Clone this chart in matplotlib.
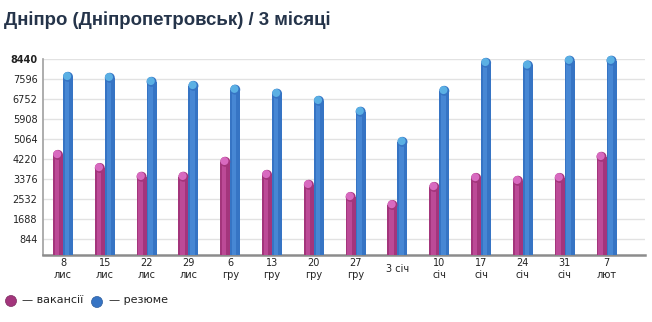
import matplotlib
matplotlib.use("Agg")
import matplotlib.pyplot as plt
from matplotlib.patches import Ellipse, Circle
import numpy as np

title = "Дніпро (Дніпропетровськ) / 3 місяці"
days = ["8", "15", "22", "29", "6", "13", "20", "27", "3 січ", "10", "17", "24", "31", "7"]
months = ["лис", "лис", "лис", "лис", "гру", "гру", "гру", "гру", "", "січ", "січ", "січ", "січ", "лют"]
vacancies = [4610, 4060, 3690, 3690, 4320, 3770, 3350, 2840, 2500, 3260, 3640, 3520, 3640, 4530]
resumes = [7900, 7860, 7690, 7520, 7360, 7190, 6890, 6430, 5160, 7310, 8490, 8380, 8580, 8580]
yticks = [844, 1688, 2532, 3376, 4220, 5064, 5908, 6752, 7596, 8440]
series_names = ["вакансії", "резюме"]

pink = "#a3357c"
pink_light = "#c754a3"
pink_cap = "#d86ac0"
blue = "#3674c4"
blue_light = "#4f90dc"
blue_cap = "#5bb0e4"

W, H = 652, 322
fig = plt.figure(figsize=(W / 100, H / 100), dpi=100)
ax = fig.add_axes([43 / W, 1 - 255 / H, (645 - 43) / W, (255 - 59) / H])
ax.set_xlim(-0.478, 13.92)
ax.set_ylim(181, 8440)

for s in ["top", "right"]:
    ax.spines[s].set_visible(False)
ax.spines["left"].set_color("#a0a0a0")
ax.spines["left"].set_linewidth(1.2)
ax.spines["bottom"].set_color("#8c8c8c")
ax.spines["bottom"].set_linewidth(1.8)

ax.set_yticks(yticks)
ax.set_yticklabels([str(v) for v in yticks], fontsize=7, color="#222222", family="DejaVu Sans")
ax.get_yticklabels()[-1].set_fontweight("bold")
ax.tick_params(axis="y", length=0, pad=4)
ax.grid(axis="y", color="#e2e2e2", linewidth=1)
ax.set_axisbelow(True)

x = np.arange(len(days))
px_x = 1 / 41.8          # data units per pixel in x
px_y = 844 / 20.0        # data units per pixel in y
bw = 10 * px_x
r_y = 5 * px_y

def draw_bar(xc, val, dark, light, cap):
    h = val - r_y
    ax.bar(xc, h - 181, bottom=181, width=bw, color=dark, edgecolor="none", zorder=3, clip_on=False)
    ax.bar(xc - bw * 0.1, h - 181, bottom=181, width=bw * 0.45, color=light, alpha=0.7,
           edgecolor="none", zorder=4, clip_on=False)
    ax.add_patch(Ellipse((xc, h), bw, 2 * r_y, facecolor=dark, edgecolor="none", zorder=5, clip_on=False))
    ax.add_patch(Ellipse((xc - bw * 0.08, h + r_y * 0.15), bw * 0.8, 1.6 * r_y, facecolor=cap,
                         edgecolor="none", zorder=6, clip_on=False))

for i in x:
    draw_bar(i - bw / 2, vacancies[i], pink, pink_light, pink_cap)
    draw_bar(i + bw / 2, resumes[i], blue, blue_light, blue_cap)

ax.set_xticks(x)
ax.set_xticklabels([])
ax.tick_params(axis="x", length=0)
for i in x:
    if months[i]:
        ax.text(i, 181 - 8 * px_y, days[i], ha="center", va="center", fontsize=7, color="#222222")
        ax.text(i, 181 - 20 * px_y, months[i], ha="center", va="center", fontsize=7, color="#222222")
    else:
        ax.text(i, 181 - 14 * px_y, days[i], ha="center", va="center", fontsize=7, color="#222222")

fig.text(4 / W, 1 - 20 / H, title, ha="left", va="center", fontsize=13.4, fontweight="bold",
         color="#25344a", family="Liberation Sans")

# legend
fig.patches.append(Circle((11, H - 301), 5.5, transform=None, facecolor=pink, edgecolor="#7a2a5e",
                          linewidth=0.5, figure=fig))
fig.patches.append(Circle((97, H - 302), 5.5, transform=None, facecolor=blue, edgecolor="#2a5a9a",
                          linewidth=0.5, figure=fig))
fig.text(22 / W, 1 - 300 / H, "— " + series_names[0], ha="left", va="center", fontsize=8, color="#222222")
fig.text(109 / W, 1 - 300 / H, "— " + series_names[1], ha="left", va="center", fontsize=8, color="#222222")

fig.savefig("out.png", dpi=100, facecolor="white")
